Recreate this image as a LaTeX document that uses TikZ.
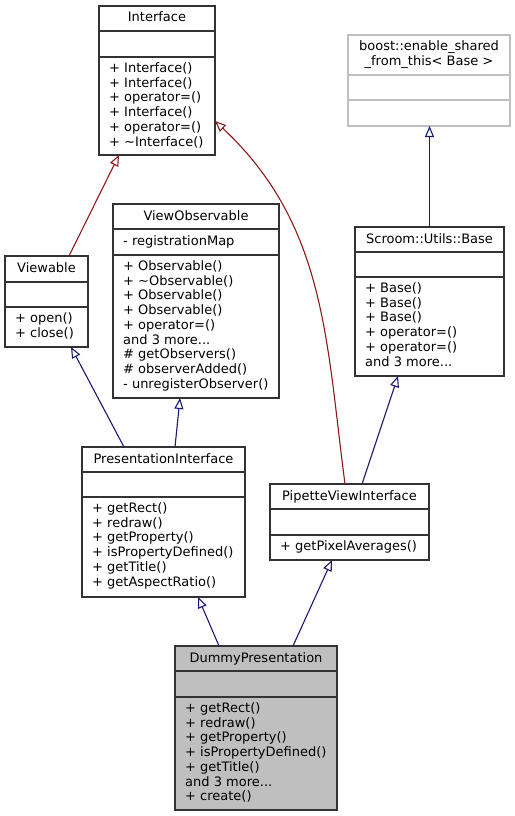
\documentclass[tikz,border=0pt]{standalone}
\usepackage{fontspec}
\setmainfont{DejaVu Sans}
\usetikzlibrary{arrows.meta,calc}
\definecolor{edgeblue}{HTML}{191970}
\definecolor{edgered}{HTML}{8B1A1A}
\definecolor{boxgray}{HTML}{BFBFBF}

\begin{document}
\begin{tikzpicture}[x=1bp,y=-1bp,font=\fontsize{13bp}{14.7bp}\selectfont,
  cls/.style={draw=black!80, line width=1.3bp, anchor=north west, inner sep=0, outer sep=0},
  sep/.style={black!80, line width=1.3bp},
  title/.style={anchor=base, inner sep=0},
  members/.style={anchor=north west, align=left, inner sep=0},
  inh/.style={-{Triangle[open,length=11bp,width=9bp]}, line width=1.1bp, edgeblue},
  use/.style={inh, edgered}]
\useasboundingbox (0,0) rectangle (515,816);
% Classes:
\node[cls, minimum width=116bp, minimum height=149bp] (Interface) at (99,6) {};
\draw[sep] (99,31) -- (215,31) (99,57) -- (215,57);
\node[title] at (157,22) {Interface};
\node[members] at (109,62.5) {+ Interface()\\+ Interface()\\+ operator=()\\+ Interface()\\+ operator=()\\+ \textasciitilde Interface()};

\node[cls, draw=boxgray, minimum width=162bp, minimum height=91bp] (Boost) at (348,35) {};
\draw[sep, boxgray] (348,75) -- (510,75) (348,100) -- (510,100);
\node[members, anchor=north, align=center] at (429,40.8) {boost::enable\_shared\\\_from\_this< Base >};

\node[cls, minimum width=149bp, minimum height=149bp] (Base) at (355,227) {};
\draw[sep] (355,252) -- (504,252) (355,277) -- (504,277);
\node[title] at (429.5,243) {Scroom::Utils::Base};
\node[members] at (365,282.5) {+ Base()\\+ Base()\\+ Base()\\+ operator=()\\+ operator=()\\and 3 more...};

\node[cls, minimum width=166bp, minimum height=194bp] (ViewObs) at (113,204) {};
\draw[sep] (113,229) -- (279,229) (113,255) -- (279,255);
\node[title] at (196,220) {ViewObservable};
\node[members] at (123,235) {- registrationMap};
\node[members] at (123,260.5) {+ Observable()\\+ \textasciitilde Observable()\\+ Observable()\\+ Observable()\\+ operator=()\\and 3 more...\\\# getObservers()\\\# observerAdded()\\- unregisterObserver()};

\node[cls, minimum width=83bp, minimum height=91bp] (Viewable) at (5,256) {};
\draw[sep] (5,282) -- (88,282) (5,307) -- (88,307);
\node[title] at (46.5,272) {Viewable};
\node[members] at (15,312.5) {+ open()\\+ close()};

\node[cls, minimum width=163bp, minimum height=150bp] (PresInt) at (82,447) {};
\draw[sep] (82,472) -- (245,472) (82,497) -- (245,497);
\node[title] at (163.5,463) {PresentationInterface};
\node[members] at (92,502.5) {+ getRect()\\+ redraw()\\+ getProperty()\\+ isPropertyDefined()\\+ getTitle()\\+ getAspectRatio()};

\node[cls, minimum width=159bp, minimum height=76bp] (Pipette) at (270,484) {};
\draw[sep] (270,509) -- (429,509) (270,535) -- (429,535);
\node[title] at (349.5,500) {PipetteViewInterface};
\node[members] at (280,540.5) {+ getPixelAverages()};

\node[cls, fill=boxgray, minimum width=162bp, minimum height=164bp] (Dummy) at (175,646) {};
\draw[sep] (175,671) -- (337,671) (175,697) -- (337,697);
\node[title] at (256,662) {DummyPresentation};
\node[members] at (185,702.5) {+ getRect()\\+ redraw()\\+ getProperty()\\+ isPropertyDefined()\\+ getTitle()\\and 3 more...\\+ create()};

% Inheritance:
\draw[use] ([xshift=22.5bp]Viewable.north) -- ([xshift=-38bp]Interface.south);
\draw[use] ([xshift=-4.5bp]Pipette.north) .. controls (326,340) and (326,225) .. ($(Interface.east)+(0,40.5)$);
\draw[inh] (Base.north) -- (Base.north |- Boost.south);
\draw[inh] ([xshift=11.5bp]PresInt.north) -- ([xshift=-16bp]ViewObs.south);
\draw[inh] ([xshift=-39.5bp]PresInt.north) -- ([xshift=24.5bp]Viewable.south);
\draw[inh] ([xshift=12.5bp]Pipette.north) -- ([xshift=-31.5bp]Base.south);
\draw[inh] ([xshift=-37bp]Dummy.north) -- ([xshift=34.5bp]PresInt.south);
\draw[inh] ([xshift=37bp]Dummy.north) -- ([xshift=-17.5bp]Pipette.south);
\end{tikzpicture}
\end{document}
